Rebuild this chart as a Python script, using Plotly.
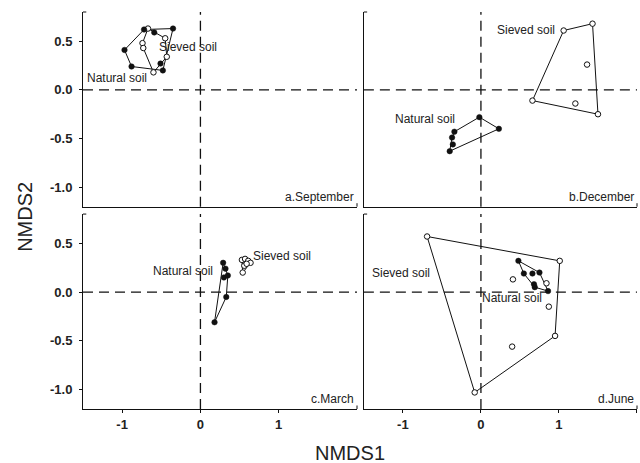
import plotly.graph_objects as go

# ---------------- data (NMDS scores) ----------------
panel_names = ["a.September", "b.December", "c.March", "d.June"]

sep_nat_x = [-0.72, -0.35, -0.59, -0.97, -0.88, -0.48, -0.51]
sep_nat_y = [0.62, 0.63, 0.59, 0.41, 0.24, 0.20, 0.27]
sep_sie_x = [-0.67, -0.45, -0.74, -0.73, -0.60, -0.43]
sep_sie_y = [0.63, 0.53, 0.48, 0.43, 0.18, 0.34]

dec_nat_x = [-0.02, 0.23, -0.34, -0.37, -0.36, -0.40]
dec_nat_y = [-0.28, -0.40, -0.43, -0.49, -0.56, -0.63]
dec_sie_x = [1.06, 1.43, 1.36, 0.66, 1.21, 1.50]
dec_sie_y = [0.61, 0.68, 0.26, -0.11, -0.14, -0.25]

mar_nat_x = [0.29, 0.32, 0.30, 0.35, 0.33, 0.18]
mar_nat_y = [0.30, 0.24, 0.15, 0.17, -0.05, -0.31]
mar_sie_x = [0.53, 0.57, 0.61, 0.64, 0.56, 0.54, 0.59]
mar_sie_y = [0.33, 0.34, 0.32, 0.30, 0.27, 0.20, 0.29]

jun_nat_x = [0.48, 0.55, 0.66, 0.75, 0.68, 0.69, 0.86]
jun_nat_y = [0.32, 0.19, 0.19, 0.20, 0.08, 0.05, 0.01]
jun_sie_x = [-0.69, 1.01, 0.95, -0.08, 0.41, 0.84, 0.87, 0.40]
jun_sie_y = [0.57, 0.32, -0.45, -1.03, 0.13, 0.09, -0.15, -0.56]

# label positions (data coords) for group names
sep_lab = {"Sieved soil": (-0.16, 0.44), "Natural soil": (-1.07, 0.12)}
dec_lab = {"Sieved soil": (0.58, 0.62), "Natural soil": (-0.72, -0.30)}
mar_lab = {"Sieved soil": (1.04, 0.37), "Natural soil": (-0.22, 0.22)}
jun_lab = {"Sieved soil": (-1.03, 0.20), "Natural soil": (0.40, -0.06)}

x_range = [-1.5, 2.0]
y_range = [-1.2, 0.8]
y_tickvals = [0.5, 0.0, -0.5, -1.0]
y_ticktext = ["0.5", "0.0", "-0.5", "-1.0"]
x_tickvals_left = [-1, 0, 1]
x_ticktext_left = ["-1", "0", "1"]
x_tickvals_right = [-1, 0, 1, 2]
x_ticktext_right = ["-1", "0", "1", "2"]


def hull(xs, ys):
    pts = sorted(set(zip(xs, ys)))
    if len(pts) < 3:
        return pts

    def cross(o, a, b):
        return (a[0] - o[0]) * (b[1] - o[1]) - (a[1] - o[1]) * (b[0] - o[0])

    lower, upper = [], []
    for p in pts:
        while len(lower) >= 2 and cross(lower[-2], lower[-1], p) <= 0:
            lower.pop()
        lower.append(p)
    for p in reversed(pts):
        while len(upper) >= 2 and cross(upper[-2], upper[-1], p) <= 0:
            upper.pop()
        upper.append(p)
    h = lower[:-1] + upper[:-1]
    return h + [h[0]]


panels = [
    (sep_nat_x, sep_nat_y, sep_sie_x, sep_sie_y, sep_lab),
    (dec_nat_x, dec_nat_y, dec_sie_x, dec_sie_y, dec_lab),
    (mar_nat_x, mar_nat_y, mar_sie_x, mar_sie_y, mar_lab),
    (jun_nat_x, jun_nat_y, jun_sie_x, jun_sie_y, jun_lab),
]

FONT = "Liberation Sans, Arial, sans-serif"
fig = go.Figure()

xdoms = [[0, 0.4946], [0.507, 1.0], [0, 0.4946], [0.507, 1.0]]
ydoms = [[0.5096, 1.0], [0.5096, 1.0], [0, 0.491], [0, 0.491]]

shapes = []
annotations = []

for i, (nx, ny, sx, sy, labs) in enumerate(panels):
    k = i + 1
    xa = "x" if k == 1 else f"x{k}"
    ya = "y" if k == 1 else f"y{k}"
    # hulls
    for xs, ys in ((sx, sy), (nx, ny)):
        h = hull(xs, ys)
        fig.add_trace(go.Scatter(x=[p[0] for p in h], y=[p[1] for p in h], mode="lines",
                                 line=dict(color="#111", width=1), xaxis=xa, yaxis=ya,
                                 showlegend=False, hoverinfo="skip"))
    fig.add_trace(go.Scatter(x=sx, y=sy, mode="markers", xaxis=xa, yaxis=ya, showlegend=False,
                             marker=dict(symbol="circle", size=5.5, color="white",
                                         line=dict(color="#111", width=1))))
    fig.add_trace(go.Scatter(x=nx, y=ny, mode="markers", xaxis=xa, yaxis=ya, showlegend=False,
                             marker=dict(symbol="circle", size=5.5, color="#111",
                                         line=dict(color="#111", width=0.5))))
    # dashed zero lines
    shapes.append(dict(type="line", xref=f"{xa} domain", yref=ya, x0=0, x1=1, y0=0, y1=0,
                       line=dict(color="#111", width=1.3, dash="10px,6px"), layer="below"))
    shapes.append(dict(type="line", xref=xa, yref=f"{ya} domain", x0=0, x1=0, y0=0, y1=1,
                       line=dict(color="#111", width=1.3, dash="10px,6px"), layer="below"))
    # end marks of axis lines
    shapes.append(dict(type="line", xref=f"{xa} domain", yref=f"{ya} domain", x0=0, x1=0.012,
                       y0=1, y1=1, line=dict(color="#111", width=1)))
    shapes.append(dict(type="line", xref=f"{xa} domain", yref=f"{ya} domain", x0=1, x1=1,
                       y0=0, y1=0.018, line=dict(color="#111", width=1)))
    # group labels
    for txt, (tx, ty) in labs.items():
        annotations.append(dict(x=tx, y=ty, xref=xa, yref=ya, text=txt, showarrow=False,
                                font=dict(family=FONT, size=12, color="#222")))
    # panel name
    annotations.append(dict(x=0.995, y=0.0, xref=f"{xa} domain", yref=f"{ya} domain",
                            text=panel_names[i], showarrow=False, xanchor="right",
                            yanchor="bottom", yshift=1,
                            font=dict(family=FONT, size=12, color="#222")))

annotations.append(dict(x=0.482, y=0, xref="paper", yref="paper", yshift=-31, text="NMDS1",
                        showarrow=False, yanchor="top", font=dict(family=FONT, size=20, color="#222")))
annotations.append(dict(x=0, y=0.484, xref="paper", yref="paper", xshift=-58, text="NMDS2",
                        textangle=-90, showarrow=False, xanchor="center",
                        font=dict(family=FONT, size=20, color="#222")))

layout = dict(
    width=640, height=463,
    margin=dict(l=83, r=3, t=12, b=54),
    paper_bgcolor="white", plot_bgcolor="white",
    shapes=shapes, annotations=annotations,
    font=dict(family=FONT, color="#222"),
)

for i in range(4):
    k = i + 1
    xkey = "xaxis" if k == 1 else f"xaxis{k}"
    ykey = "yaxis" if k == 1 else f"yaxis{k}"
    ya = "y" if k == 1 else f"y{k}"
    xa = "x" if k == 1 else f"x{k}"
    bottom = i >= 2
    left = i % 2 == 0
    xt = dict(domain=xdoms[i], range=x_range, anchor=ya, showgrid=False, zeroline=False,
              showline=True, linecolor="#111", linewidth=1, mirror=False,
              tickfont=dict(family=FONT, size=13, color="#222", weight="bold"))
    if bottom:
        tv = x_tickvals_left if left else x_tickvals_right
        tt = x_ticktext_left if left else x_ticktext_right
        xt.update(tickmode="array", tickvals=tv, ticktext=tt, ticks="outside", ticklen=3,
                  tickcolor="#111", showticklabels=True)
    else:
        xt.update(showticklabels=False, ticks="")
    yt = dict(domain=ydoms[i], range=y_range, anchor=xa, showgrid=False, zeroline=False,
              showline=True, linecolor="#111", linewidth=1,
              tickfont=dict(family=FONT, size=13, color="#222", weight="bold"))
    if left:
        yt.update(tickmode="array", tickvals=y_tickvals, ticktext=y_ticktext, ticks="outside",
                  ticklen=3, tickcolor="#111", showticklabels=True, ticklabelstandoff=4)
    else:
        yt.update(showticklabels=False, ticks="")
    layout[xkey] = xt
    layout[ykey] = yt

fig.update_layout(**layout)
fig.write_html("out.html", config={"displayModeBar": False},
               post_script="document.body.style.margin='0px';document.body.style.overflow='hidden';")
